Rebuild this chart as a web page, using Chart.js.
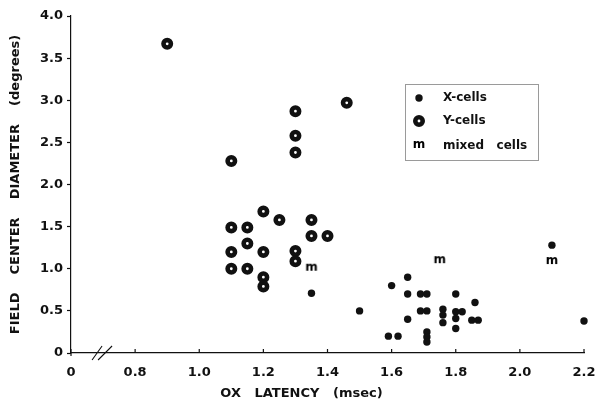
<!DOCTYPE html>
<html>
<head>
<meta charset="utf-8">
<script src="https://cdn.jsdelivr.net/npm/chart.js@4/dist/chart.umd.min.js"></script>
<style>
  html, body { margin: 0; padding: 0; background: #fff; }
  #wrap { width: 597px; height: 405px; }
</style>
</head>
<body>
<div id="wrap"><canvas id="chart" width="597" height="405"></canvas></div>
<script>
// X-cells (filled dots)
const xCellLatency  = [1.35, 2.10, 1.65, 1.60, 1.65, 1.69, 1.71, 1.80, 1.86, 1.50, 1.65, 1.69, 1.71, 1.76,
                       1.76, 1.76, 1.80, 1.82, 1.80, 1.80, 1.85, 1.87, 1.59, 1.62, 1.71, 1.71, 1.71, 2.20];
const xCellDiameter = [0.71, 1.28, 0.90, 0.80, 0.70, 0.70, 0.70, 0.70, 0.60, 0.50, 0.40, 0.50, 0.50, 0.52,
                       0.45, 0.36, 0.49, 0.49, 0.41, 0.29, 0.39, 0.39, 0.20, 0.20, 0.25, 0.19, 0.13, 0.38];

// Y-cells (open rings)
const yCellLatency  = [0.90, 1.10, 1.30, 1.30, 1.30, 1.46, 1.20, 1.25, 1.35, 1.10, 1.15,
                       1.35, 1.40, 1.15, 1.10, 1.20, 1.30, 1.30, 1.10, 1.15, 1.20, 1.20];
const yCellDiameter = [3.67, 2.28, 2.87, 2.58, 2.38, 2.97, 1.68, 1.58, 1.58, 1.49, 1.49,
                       1.39, 1.39, 1.30, 1.20, 1.20, 1.21, 1.09, 1.00, 1.00, 0.90, 0.79];

// mixed cells ("m")
const mixLatency  = [1.35, 1.75, 2.10];
const mixDiameter = [1.00, 1.09, 1.08];

// axes (x axis is broken: the first tick stands for 0)
const xTicks      = [0.6, 0.8, 1.0, 1.2, 1.4, 1.6, 1.8, 2.0, 2.2];
const xTickLabels = ['0', '0.8', '1.0', '1.2', '1.4', '1.6', '1.8', '2.0', '2.2'];
const yTicks      = [0, 0.5, 1.0, 1.5, 2.0, 2.5, 3.0, 3.5, 4.0];
const yTickLabels = ['0', '0.5', '1.0', '1.5', '2.0', '2.5', '3.0', '3.5', '4.0'];

const xTitle = 'OX   LATENCY   (msec)';
const yTitle = 'FIELD    CENTER    DIAMETER    (degrees)';
const legendLabels = ['X-cells', 'Y-cells', 'mixed   cells'];

const FONT = 'DejaVu Sans';
const INK = '#111';

function pts(xs, ys) {
    return xs.map((x, i) => ({ x: x, y: ys[i] }));
}

// "m" marker as an image point style
const mMark = document.createElement('canvas');
mMark.width = 16;
mMark.height = 14;
{
    const c = mMark.getContext('2d');
    c.fillStyle = '#000';
    c.font = 'bold 12px "' + FONT + '"';
    c.textAlign = 'center';
    c.textBaseline = 'middle';
    c.fillText('m', 8, 6);
}

const dotStyle  = { pointRadius: 3.7, pointBorderWidth: 0, pointBackgroundColor: INK };
const ringStyle = { pointRadius: 3.7, pointBorderWidth: 4.6, pointBorderColor: INK, pointBackgroundColor: '#fff' };

const extras = {
    id: 'extras',
    afterDraw(chart) {
        const ctx = chart.ctx;
        const area = chart.chartArea;
        const xs = chart.scales.x;
        ctx.save();
        ctx.strokeStyle = INK;
        ctx.fillStyle = INK;

        // inward tick marks on the x axis
        ctx.lineWidth = 1.2;
        xTicks.forEach(v => {
            const px = xs.getPixelForValue(v);
            ctx.beginPath();
            ctx.moveTo(px, area.bottom + (v === xTicks[0] ? 3 : 0));
            ctx.lineTo(px, area.bottom - 4);
            ctx.stroke();
        });

        // axis break
        const bx = xs.getPixelForValue(0.7);
        ctx.lineWidth = 1.1;
        ctx.beginPath();
        ctx.moveTo(bx - 11, area.bottom + 7);
        ctx.lineTo(bx - 1, area.bottom - 7);
        ctx.moveTo(bx - 5, area.bottom + 7);
        ctx.lineTo(bx + 9, area.bottom - 7);
        ctx.stroke();

        // axis titles
        ctx.font = 'bold 13px "' + FONT + '"';
        ctx.textAlign = 'center';
        ctx.textBaseline = 'middle';
        ctx.fillText(xTitle, (area.left + area.right) / 2 - 26, 394);
        ctx.save();
        ctx.translate(16, (area.top + area.bottom) / 2);
        ctx.rotate(-Math.PI / 2);
        ctx.fillText(yTitle, 0, 0);
        ctx.restore();

        // legend
        const lx = 405, ly = 84, lw = 133, lh = 76;
        ctx.strokeStyle = '#9a9a9a';
        ctx.lineWidth = 1;
        ctx.strokeRect(lx + 0.5, ly + 0.5, lw, lh);
        const rows = [98, 121, 146];
        const mx = 419, tx = 443;
        ctx.fillStyle = INK;
        ctx.beginPath();
        ctx.arc(mx, rows[0], 3.7, 0, Math.PI * 2);
        ctx.fill();
        ctx.strokeStyle = INK;
        ctx.lineWidth = 4.6;
        ctx.beginPath();
        ctx.arc(mx, rows[1], 3.7, 0, Math.PI * 2);
        ctx.stroke();
        ctx.drawImage(mMark, mx - 8, rows[2] - 7);
        ctx.font = 'bold 12px "' + FONT + '"';
        ctx.textAlign = 'left';
        legendLabels.forEach((t, i) => ctx.fillText(t, tx, rows[i]));

        ctx.restore();
    }
};

const ctx = document.getElementById('chart');

new Chart(ctx, {
    type: 'scatter',
    data: {
        datasets: [
            Object.assign({ label: 'X-cells', data: pts(xCellLatency, xCellDiameter) }, dotStyle),
            Object.assign({ label: 'Y-cells', data: pts(yCellLatency, yCellDiameter) }, ringStyle),
            { label: 'mixed cells', data: pts(mixLatency, mixDiameter), pointStyle: mMark, pointRadius: 6 }
        ]
    },
    options: {
        responsive: false,
        animation: false,
        events: [],
        clip: false,
        layout: { padding: 0 },
        plugins: {
            legend: { display: false },
            tooltip: { enabled: false }
        },
        scales: {
            x: {
                type: 'linear',
                min: 0.6,
                max: 2.2,
                afterBuildTicks: s => { s.ticks = xTicks.map(v => ({ value: v })); },
                afterFit: s => {
                    s.height = 52;
                    s.paddingLeft = 0;
                    s.paddingRight = 13;
                },
                ticks: {
                    padding: 12,
                    color: INK,
                    font: { family: FONT, size: 13, weight: 'bold' },
                    maxRotation: 0,
                    autoSkip: false,
                    callback: (v, i) => xTickLabels[i]
                },
                grid: { drawOnChartArea: false, drawTicks: false },
                border: { display: true, color: INK, width: 1.2 }
            },
            y: {
                min: 0,
                max: 4,
                afterBuildTicks: s => { s.ticks = yTicks.map(v => ({ value: v })); },
                afterFit: s => {
                    s.width = 71;
                    s.paddingTop = 16;
                    s.paddingBottom = 0;
                },
                ticks: {
                    padding: 4,
                    color: INK,
                    font: { family: FONT, size: 13, weight: 'bold' },
                    autoSkip: false,
                    callback: (v, i) => yTickLabels[i]
                },
                grid: { drawOnChartArea: false, drawTicks: true, tickLength: 4, tickColor: INK, tickWidth: 1.2 },
                border: { display: true, color: INK, width: 1.2 }
            }
        }
    },
    plugins: [extras]
});
</script>
</body>
</html>
